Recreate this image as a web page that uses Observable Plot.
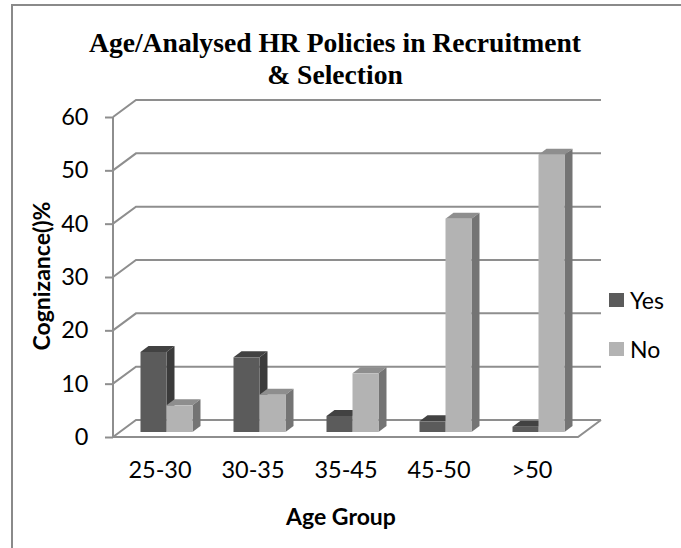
<!DOCTYPE html>
<html>
<head>
<meta charset="utf-8">
<script src="https://cdn.jsdelivr.net/npm/d3@7"></script>
<script src="https://cdn.jsdelivr.net/npm/@observablehq/plot@0.6"></script>
<style>
  html, body { margin: 0; padding: 0; background: #fff; overflow: hidden; }
  #wrap { position: relative; width: 681px; height: 548px; overflow: hidden; }
  #border { position: absolute; left: 11px; top: 4px; width: 720px; height: 620px; border: 2px solid #8a8a8a; box-sizing: border-box; }
  #chart { position: absolute; left: 0; top: 0; }
  .title { position: absolute; left: 35px; width: 600px; text-align: center; font-family: "Liberation Serif", "Times New Roman", serif; font-weight: bold; font-size: 27.6px; line-height: 32px; white-space: nowrap; color: #000; }
  .lbl { position: absolute; font-family: Lato, "Open Sans", sans-serif; font-weight: bold; font-size: 23px; color: #000; white-space: nowrap; }
  .leg { position: absolute; font-family: Lato, "Open Sans", sans-serif; font-size: 23px; color: #000; line-height: 22px; white-space: nowrap; }
  .sw { position: absolute; width: 15px; height: 14px; }
</style>
</head>
<body>
<div id="wrap">
  <div id="chart"></div>
  <div id="border"></div>
  <div class="title" style="top:27px;">Age/Analysed HR Policies in Recruitment<br>&amp; Selection</div>
  <div class="lbl" id="ylab" style="left:41px; top:276px; transform: translate(-50%,-50%) rotate(-90deg);">Cognizance()%</div>
  <div class="lbl" id="xlab" style="left:341px; top:516px; transform: translate(-50%,-50%);">Age Group</div>
  <div id="legend"></div>
</div>
<script>
// ---- data ----
const ageGroups = ["25-30", "30-35", "35-45", "45-50", ">50"];
const yesValues = [15, 14, 3, 2, 1];
const noValues = [5, 7, 11, 40, 52];
const yTicks = [0, 10, 20, 30, 40, 50, 60];
const seriesNames = ["Yes", "No"];

// ---- styling ----
const frontColors = {Yes: "#5b5b5b", No: "#b3b3b3"};
const topColors = {Yes: "#424242", No: "#8e8e8e"};
const sideColors = {Yes: "#3b3b3b", No: "#747474"};
const gridColor = "#8e8e8e";
const WALL = [23, -17];     // depth of the 3D wall/floor
const BAR_OFF = [7, -5];    // front face of bars, offset into depth
const BAR_DEPTH = [8, -6];  // visible depth of each bar
const BAR_W = 26;

const rows = seriesNames.flatMap(s => ageGroups.map((age, i) => ({
  series: s, age, value: (s === "Yes" ? yesValues : noValues)[i]
})));

function wallMark(index, scales, values, dim) {
  const g = d3.create("svg:g").attr("fill", "none").attr("stroke", gridColor).attr("stroke-width", 2);
  const L = dim.marginLeft, R = dim.width - dim.marginRight;
  for (const t of yTicks) {
    const y = scales.y(t);
    g.append("path").attr("d", `M${L},${y}L${L + WALL[0]},${y + WALL[1]}H${R + WALL[0]}`);
  }
  const y0 = scales.y(0);
  g.append("path").attr("d", `M${L},${y0}H${R}L${R + WALL[0]},${y0 + WALL[1]}`);
  g.append("path").attr("d", `M${L},${y0}V${scales.y(yTicks[yTicks.length - 1])}`);
  return g.node();
}

function insets(series, bw) {
  return series === "Yes"
    ? {insetLeft: bw / 2 - BAR_W, insetRight: bw / 2}
    : {insetLeft: bw / 2, insetRight: bw / 2 - BAR_W};
}

function facesMark(series) {
  return function (index, scales, values, dim) {
    const g = d3.create("svg:g");
    const bw = scales.x.bandwidth ? scales.x.bandwidth() : (dim.width - dim.marginLeft - dim.marginRight) / ageGroups.length;
    const ins = insets(series, bw);
    const y0 = scales.y(0) + BAR_OFF[1];
    for (const r of rows.filter(d => d.series === series)) {
      const x0 = scales.x(r.age) + ins.insetLeft + BAR_OFF[0];
      const x1 = x0 + BAR_W;
      const yt = scales.y(r.value) + BAR_OFF[1];
      const [dx, dy] = BAR_DEPTH;
      g.append("path").attr("fill", topColors[series])
        .attr("d", `M${x0},${yt}L${x1},${yt}L${x1 + dx},${yt + dy}L${x0 + dx},${yt + dy}Z`);
      g.append("path").attr("fill", sideColors[series])
        .attr("d", `M${x1},${yt}L${x1 + dx},${yt + dy}L${x1 + dx},${y0 + dy}L${x1},${y0}Z`);
    }
    return g.node();
  };
}

const BW = (681 - 113 - 103) / ageGroups.length;

const chart = Plot.plot({
  width: 681,
  height: 548,
  marginLeft: 113,
  marginRight: 103,
  marginTop: 117,
  marginBottom: 111,
  style: {fontFamily: "Lato, 'Open Sans', sans-serif", fontSize: "23.5px", color: "#000", background: "transparent"},
  x: {domain: ageGroups, padding: 0, label: null},
  y: {domain: [0, 60], label: null},
  marks: [
    wallMark,
    facesMark("Yes"),
    Plot.barY(rows.filter(d => d.series === "Yes"), {
      x: "age", y: "value", fill: frontColors.Yes, dx: BAR_OFF[0], dy: BAR_OFF[1], ...insets("Yes", BW)
    }),
    facesMark("No"),
    Plot.barY(rows.filter(d => d.series === "No"), {
      x: "age", y: "value", fill: frontColors.No, dx: BAR_OFF[0], dy: BAR_OFF[1], ...insets("No", BW)
    }),
    Plot.axisY({ticks: yTicks, tickSize: 8, tickPadding: 17, stroke: gridColor, strokeWidth: 2, fill: "#000", fontSize: 23.5, label: null}),
    Plot.axisX({tickSize: 0, tickPadding: 24, fill: "#000", fontSize: 23.5, label: null})
  ]
});
document.getElementById("chart").appendChild(chart);

// legend
const legend = document.getElementById("legend");
const legendTops = [293, 342];
seriesNames.forEach((s, i) => {
  const sw = document.createElement("div");
  sw.className = "sw";
  sw.style.left = "609px";
  sw.style.top = legendTops[i] + "px";
  sw.style.background = frontColors[s];
  legend.appendChild(sw);
  const t = document.createElement("div");
  t.className = "leg";
  t.style.left = "630px";
  t.style.top = (legendTops[i] - 4) + "px";
  t.textContent = s;
  legend.appendChild(t);
});
</script>
</body>
</html>
